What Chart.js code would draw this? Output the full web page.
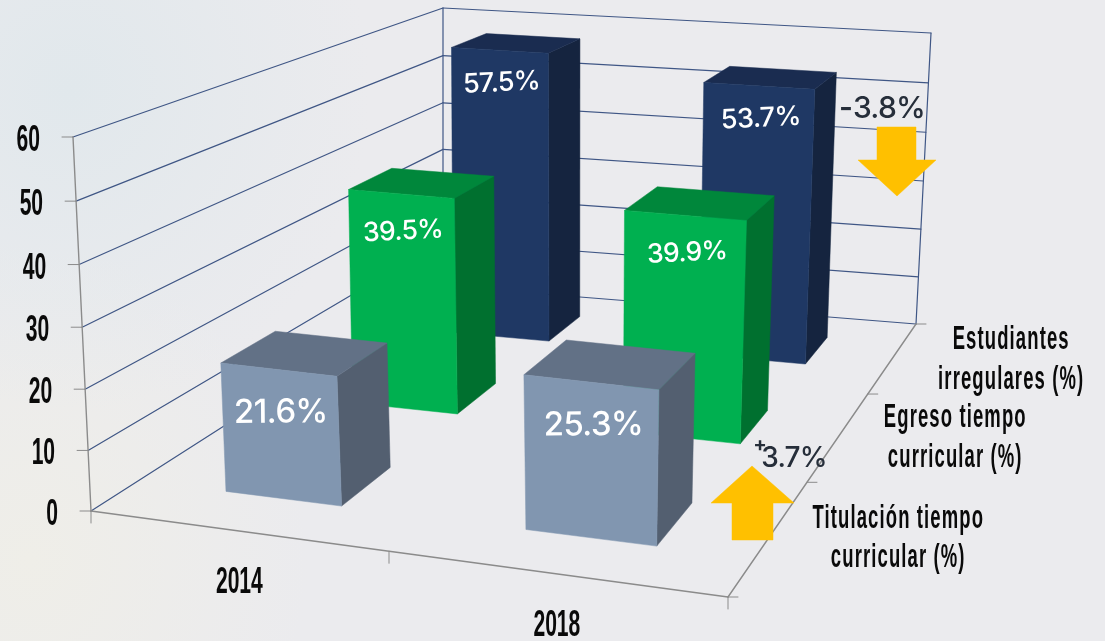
<!DOCTYPE html>
<html>
<head>
<meta charset="utf-8">
<title>Indicadores 2014 - 2018</title>
<script src="https://cdn.jsdelivr.net/npm/chart.js@4"></script>
<style>
  html, body { margin: 0; padding: 0; width: 1105px; height: 641px; overflow: hidden; }
  body {
    background-color: #ebebee;
    background-image:
      radial-gradient(ellipse 300px 320px at 70px 90px, #e1e8ec 0%, rgba(225,232,236,0) 100%),
      radial-gradient(ellipse 280px 320px at 30px 560px, #efeee8 0%, rgba(239,238,232,0) 100%);
  }
  canvas { display: block; }
</style>
</head>
<body>
<canvas id="chart" width="1105" height="641"></canvas>
<script>
// data
const years = ["2014", "2018"];
const yTicks = [0, 10, 20, 30, 40, 50, 60];
const titulacion = [21.6, 25.3];
const egreso = [39.5, 39.9];
const irregulares = [57.5, 53.7];
const rowNames = [
  ["Titulación tiempo", "curricular (%)"],
  ["Egreso tiempo", "curricular (%)"],
  ["Estudiantes", "irregulares (%)"]
];

// corners of the 3d box, in the order front-left, front-right, back-right, back-left
const floorQuad = [[91, 511], [728, 597], [916, 324], [443, 286]];
const topQuad = [[73, 137], [742, 203], [931, 33], [443, 8]];
const heightBend = 1.035;
const rowDepth = 0.39;
const slotShift = 0.007;

// colours by row: face, top, side
const rowColors = [
  ["#8196b0", "#627186", "#535f70"],
  ["#00b050", "#00873b", "#00702f"],
  ["#1f3864", "#1a2c50", "#15243f"]
];
const labelFont = [33, 26.5, 27];
const labelDrop = [41, 36, 31];
const labelTilt = [-0.5, -3, -3];
const rowLabelShift = [128, 116, 118];

const gridColor = "#3f5685";
const axisColor = "#8b8b8b";
const narrowFont = '"Liberation Sans", sans-serif';
const roundFont = 'Inter, "Open Sans", sans-serif';

function quadMap(q) {
  const [p0, p1, p2, p3] = q;
  const dx1 = p1[0] - p2[0], dx2 = p3[0] - p2[0], sx = p0[0] - p1[0] + p2[0] - p3[0];
  const dy1 = p1[1] - p2[1], dy2 = p3[1] - p2[1], sy = p0[1] - p1[1] + p2[1] - p3[1];
  const det = dx1 * dy2 - dx2 * dy1;
  const g = (sx * dy2 - dx2 * sy) / det;
  const h = (dx1 * sy - sx * dy1) / det;
  const a = p1[0] - p0[0] + g * p1[0], b = p3[0] - p0[0] + h * p3[0];
  const d = p1[1] - p0[1] + g * p1[1], e = p3[1] - p0[1] + h * p3[1];
  return (u, v) => {
    const n = g * u + h * v + 1;
    return [(a * u + b * v + p0[0]) / n, (d * u + e * v + p0[1]) / n];
  };
}
const floorMap = quadMap(floorQuad);
const topMap = quadMap(topQuad);

// u along the years, v into the picture, w up the value axis (all 0..1)
function project(u, v, w) {
  const t = w / (heightBend + (1 - heightBend) * w);
  const a = floorMap(u, v), b = topMap(u, v);
  return [a[0] + (b[0] - a[0]) * t, a[1] + (b[1] - a[1]) * t];
}

function line(ctx, a, b, color, width) {
  ctx.strokeStyle = color;
  ctx.lineWidth = width;
  ctx.beginPath();
  ctx.moveTo(a[0], a[1]);
  ctx.lineTo(b[0], b[1]);
  ctx.stroke();
}

function poly(ctx, pts, color) {
  ctx.fillStyle = color;
  ctx.strokeStyle = color;
  ctx.lineWidth = 0.5;
  ctx.beginPath();
  pts.forEach((p, i) => (i ? ctx.lineTo(p[0], p[1]) : ctx.moveTo(p[0], p[1])));
  ctx.closePath();
  ctx.fill();
  ctx.stroke();
}

function text(ctx, str, x, y, font, color, opts) {
  opts = opts || {};
  ctx.save();
  ctx.translate(x, y);
  if (opts.tilt) ctx.rotate((opts.tilt * Math.PI) / 180);
  ctx.scale(opts.sx || 1, 1);
  ctx.font = font;
  ctx.fillStyle = color;
  ctx.textAlign = opts.align || "center";
  ctx.textBaseline = "alphabetic";
  ctx.letterSpacing = opts.spacing || "0px";
  ctx.fillText(str, 0, 0);
  ctx.restore();
}

const box3d = {
  id: "box3d",
  beforeDatasetsDraw(chart) {
    const ctx = chart.ctx;
    const yScale = chart.scales.y;
    const xScale = chart.scales.x;
    const area = chart.chartArea;
    ctx.save();
    ctx.lineCap = "round";
    // walls
    yScale.ticks.forEach(tick => {
      const w = (area.bottom - yScale.getPixelForValue(tick.value)) / area.height;
      const front = project(0, 0, w);
      line(ctx, front, project(0, 1, w), gridColor, 1.2);
      line(ctx, project(0, 1, w), project(1, 1, w), gridColor, 1.2);
      line(ctx, front, [front[0] - 11, front[1]], axisColor, 1);
      text(ctx, tick.label, front[0] - 33, front[1] + 14, "bold 37px " + narrowFont, "#0a0a0a", { align: "right", sx: 0.57 });
    });
    line(ctx, project(0, 1, 0), project(0, 1, 1), gridColor, 1.2);
    line(ctx, project(1, 1, 0), project(1, 1, 1), gridColor, 1.2);
    line(ctx, project(0, 0, 0), project(0, 0, 1), axisColor, 1.4);
    // floor edges and their ticks
    line(ctx, project(0, 0, 0), project(1, 0, 0), axisColor, 1.4);
    line(ctx, project(1, 0, 0), project(1, 1, 0), axisColor, 1.4);
    [0, 0.5, 1].forEach(u => {
      const p = project(u, 0, 0);
      line(ctx, p, [p[0], p[1] + 12], axisColor, 1);
    });
    [0, 1, 2, 3].forEach(k => {
      const p = project(1, k / 3, 0);
      line(ctx, p, [p[0] + 10, p[1]], axisColor, 1);
    });
    // year labels under the front edge
    years.forEach((year, i) => {
      const u = (xScale.getPixelForValue(i) - area.left) / area.width;
      const p = project(u, 0, 0);
      text(ctx, year, p[0] + 4, p[1] + 63, "bold 37px " + narrowFont, "#0a0a0a", { sx: 0.57 });
    });
    // row labels next to the right floor edge
    rowNames.forEach((lines, row) => {
      const p = project(1, (row + 0.5) / 3, 0);
      lines.forEach((s, k) => {
        text(ctx, s, p[0] + rowLabelShift[row], p[1] - 8 + k * 39.5, "bold 33px " + narrowFont, "#0a0a0a", { sx: 0.56, spacing: "2px" });
      });
    });
    ctx.restore();
  },
  beforeDatasetDraw(chart, args) {
    const ctx = chart.ctx;
    const row = args.index;
    const area = chart.chartArea;
    const colors = rowColors[row];
    const v0 = (row + 0.5 - rowDepth / 2) / 3;
    const v1 = (row + 0.5 + rowDepth / 2) / 3;
    args.meta.data.forEach((bar, i) => {
      const u0 = (bar.x - bar.width / 2 - area.left) / area.width + slotShift;
      const u1 = (bar.x + bar.width / 2 - area.left) / area.width + slotShift;
      const w = (bar.base - bar.y) / area.height;
      poly(ctx, [project(u1, v0, 0), project(u1, v1, 0), project(u1, v1, w), project(u1, v0, w)], colors[2]);
      poly(ctx, [project(u0, v0, w), project(u1, v0, w), project(u1, v1, w), project(u0, v1, w)], colors[1]);
      poly(ctx, [project(u0, v0, 0), project(u1, v0, 0), project(u1, v0, w), project(u0, v0, w)], colors[0]);
      const a = project(u0, v0, w), b = project(u1, v0, w);
      const value = chart.data.datasets[row].data[i].toFixed(1) + "%";
      text(ctx, value, (a[0] + b[0]) / 2 + 2, (a[1] + b[1]) / 2 + labelDrop[row] + labelFont[row] * 0.36, "500 " + labelFont[row] + "px " + roundFont, "#ffffff", { tilt: labelTilt[row], spacing: "-0.6px" });
    });
    return false;
  },
  afterDatasetsDraw(chart) {
    const ctx = chart.ctx;
    // change markers
    poly(ctx, [[877, 127], [916, 127], [916, 160], [936, 160], [897, 196], [858, 160], [877, 160]], "#ffc000");
    poly(ctx, [[732, 540], [773, 540], [773, 503], [794, 503], [752, 466], [711, 503], [732, 503]], "#ffc000");
    text(ctx, "-", 846, 118, "600 30px " + roundFont, "#262e3a");
    text(ctx, "3.8%", 889, 118, "500 30px " + roundFont, "#262e3a", { spacing: "-0.8px" });
    text(ctx, "+", 760, 451, "700 20px " + roundFont, "#262e3a");
    text(ctx, "3.7%", 794, 467, "500 28px " + roundFont, "#262e3a", { spacing: "-0.8px" });
  }
};

new Chart(document.getElementById("chart").getContext("2d"), {
  type: "bar",
  data: {
    labels: years,
    datasets: [
      { label: rowNames[0].join(" "), data: titulacion },
      { label: rowNames[1].join(" "), data: egreso },
      { label: rowNames[2].join(" "), data: irregulares }
    ]
  },
  options: {
    responsive: false,
    animation: false,
    grouped: false,
    barPercentage: 0.4,
    categoryPercentage: 1,
    scales: {
      x: { display: false },
      y: {
        display: false,
        min: yTicks[0],
        max: yTicks[yTicks.length - 1],
        ticks: { stepSize: 10 }
      }
    },
    plugins: { legend: { display: false }, tooltip: { enabled: false } }
  },
  plugins: [box3d]
});
</script>
</body>
</html>
